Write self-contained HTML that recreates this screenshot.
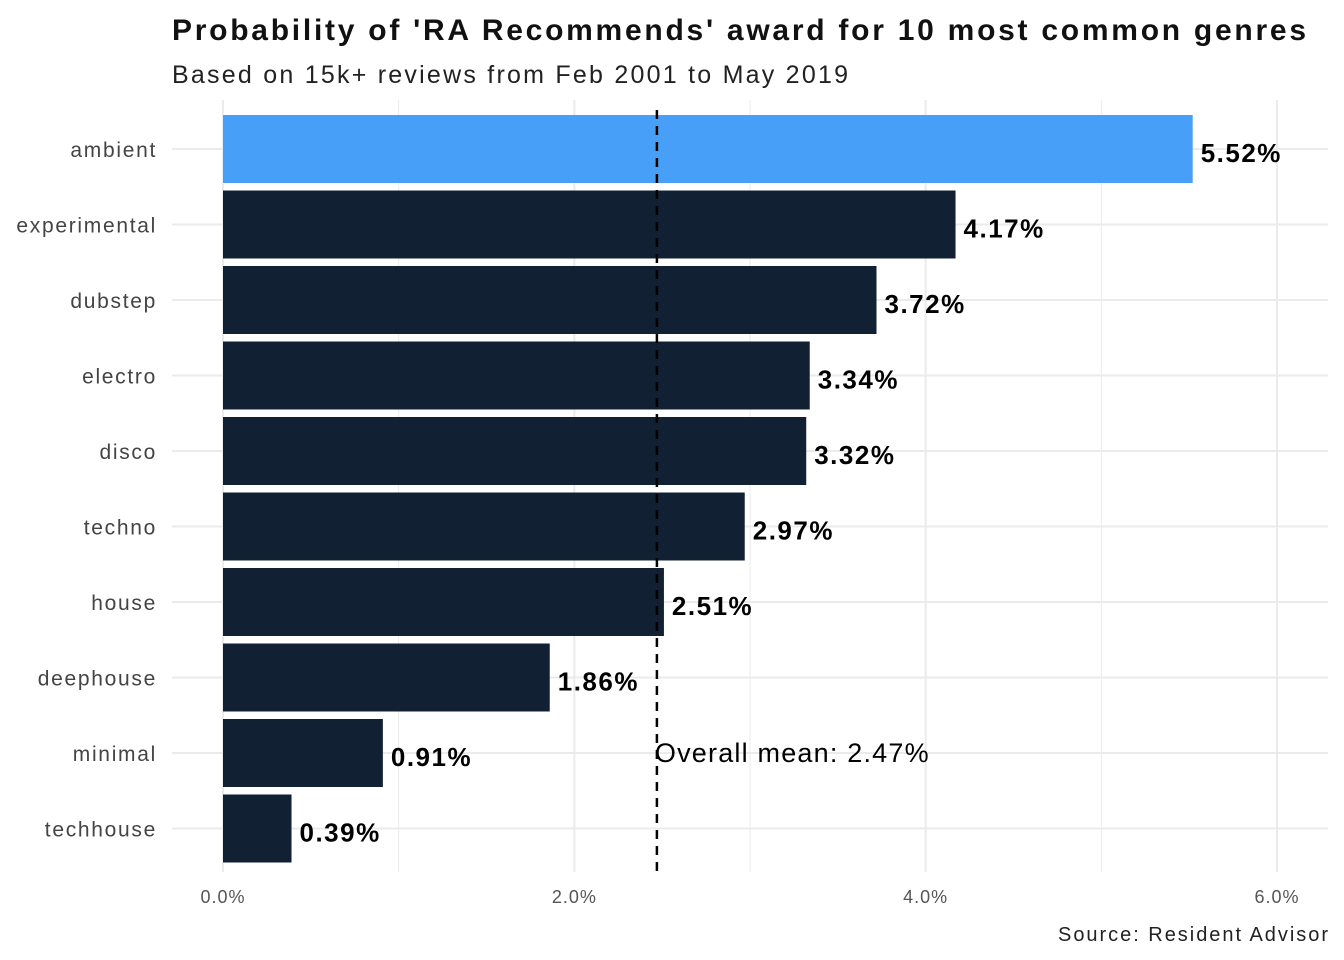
<!DOCTYPE html>
<html><head><meta charset="utf-8"><style>
body{margin:0;background:#fff;}
svg{display:block;font-family:"Liberation Sans",sans-serif;}
</style></head><body>
<svg id="chart" width="1344" height="960" viewBox="0 0 1344 960">
<rect width="1344" height="960" fill="#fff"/>
<text x="172" y="40" font-size="30" font-weight="bold" fill="#111" textLength="1134" lengthAdjust="spacing">Probability of 'RA Recommends' award for 10 most common genres</text>
<text x="172" y="83" font-size="25" fill="#222" textLength="676" lengthAdjust="spacing">Based on 15k+ reviews from Feb 2001 to May 2019</text>
<g id="grid"></g><g id="bars"></g><g id="labels"></g>
<text x="1328" y="941" font-size="20" text-anchor="end" fill="#222" textLength="270" lengthAdjust="spacing">Source: Resident Advisor</text>
</svg>
<script>
const genres=["ambient","experimental","dubstep","electro","disco","techno","house","deephouse","minimal","techhouse"];
const values=[5.52,4.17,3.72,3.34,3.32,2.97,2.51,1.86,0.91,0.39];
const xTicks=[0,2,4,6];
const xTickLabels=["0.0%","2.0%","4.0%","6.0%"];
const meanValue=2.47;
const NS="http://www.w3.org/2000/svg";
const x=v=>223+v*175.67;
const y=i=>149+i*75.5;
function mk(t,a,p){const e=document.createElementNS(NS,t);for(const k in a)e.setAttribute(k,a[k]);p.appendChild(e);return e;}
const grid=document.getElementById('grid'),bars=document.getElementById('bars'),labels=document.getElementById('labels');
for(let v=0;v<=6;v+=1){const g=mk('line',{x1:x(v),x2:x(v),y1:100,y2:872,stroke:'#ebebeb','stroke-width':v%2?1:2},grid);
}
xTicks.forEach((v,i)=>{const t=mk('text',{x:x(v),y:903,'font-size':18,'text-anchor':'middle',fill:'#555','letter-spacing':1},labels);t.textContent=xTickLabels[i];
});
genres.forEach((g,i)=>{
const l=mk('line',{x1:172,x2:1328,y1:y(i),y2:y(i),stroke:'#ebebeb','stroke-width':2},grid);

const r=mk('rect',{x:x(0),y:y(i)-34,width:x(values[i])-x(0),height:68,fill:i==0?'#479ff8':'#112033'},bars);

const t=mk('text',{x:157,y:y(i)+8,'font-size':21,'text-anchor':'end',fill:'#444','letter-spacing':1.7},labels);t.textContent=g;

const v=mk('text',{x:x(values[i])+8,y:y(i)+13,'font-size':26,'font-weight':'bold',fill:'#000','letter-spacing':1.5},labels);v.textContent=values[i].toFixed(2)+'%';

});
const m=mk('line',{x1:x(meanValue),x2:x(meanValue),y1:110,y2:875,stroke:'#000','stroke-width':2.5,'stroke-dasharray':'9,7'},labels);

const mt=mk('text',{x:x(meanValue)-2,y:y(8)+9,'font-size':27,fill:'#000','letter-spacing':1.2},labels);mt.textContent='Overall mean: '+meanValue.toFixed(2)+'%';

</script>
</body></html>
